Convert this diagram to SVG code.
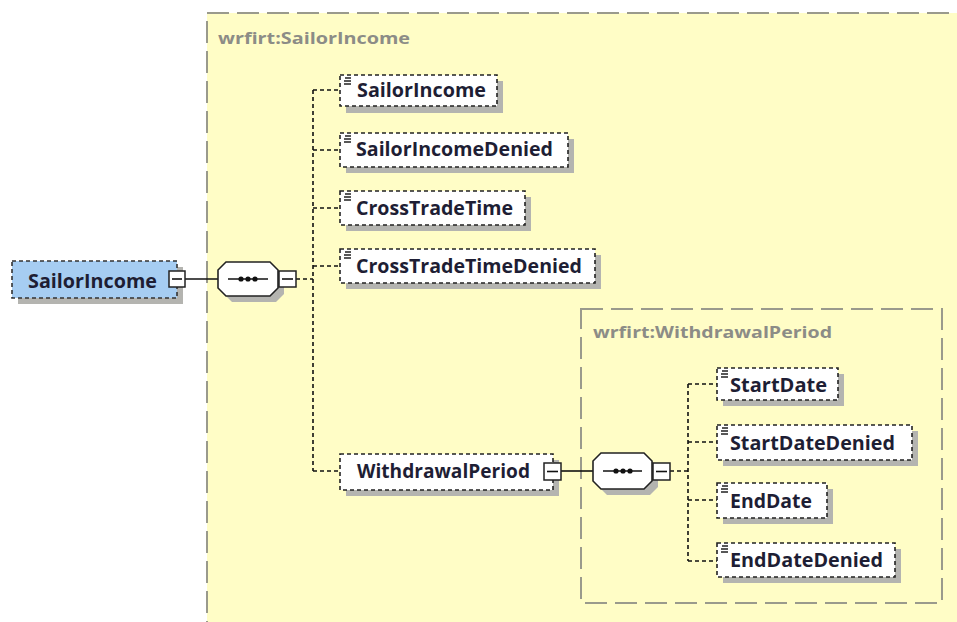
<svg xmlns="http://www.w3.org/2000/svg" width="957" height="622" viewBox="0 0 957 622">
<style>
.bg{fill:#ffffff}
.grp{fill:#fffdc6;stroke:#9a9a8c;stroke-width:2;stroke-dasharray:22 8}
.glabel{font-family:"Open Sans","Noto Sans","DejaVu Sans",sans-serif;font-weight:bold;font-size:16px;fill:#8c8c86}
.shadow{fill:#b4b4b0}
.el{fill:#ffffff;stroke:#222;stroke-width:1.6;stroke-dasharray:4 3}
.root{fill:#a6cdf2;stroke:#333;stroke-width:1.6;stroke-dasharray:4 3}
.t{font-family:"Open Sans","Noto Sans","DejaVu Sans",sans-serif;font-weight:bold;font-size:19px;fill:#1e1e34}
.solid{stroke:#111;stroke-width:1.6;fill:none}
.dash{stroke:#111;stroke-width:1.6;fill:none;stroke-dasharray:4 3}
.seq{fill:#ffffff;stroke:#222;stroke-width:1.6}
.box{fill:#ffffff;stroke:#222;stroke-width:1.5}
.ico{stroke:#222;stroke-width:1.4}
</style>
<defs>
<g id="icon"><path class="ico" d="M1,0h6M0,3h7M0,6h7"/></g>
</defs>
<rect class="bg" x="0" y="0" width="957" height="622"/>

<g id="group-SailorIncome">
<rect class="grp" x="207" y="13" width="770" height="640"/>
<text class="glabel" x="218" y="44" textLength="192" lengthAdjust="spacingAndGlyphs">wrfirt:SailorIncome</text>
</g>
<g id="group-WithdrawalPeriod">
<rect class="grp" x="581" y="309" width="361" height="294"/>
<text class="glabel" x="593" y="338" textLength="239" lengthAdjust="spacingAndGlyphs">wrfirt:WithdrawalPeriod</text>
</g>

<g id="connectors">
<path class="solid" d="M185,279H218"/>
<path class="dash" d="M296,279H313M313,90V471M313,90H340M313,150H340M313,208H340M313,266H340M313,471H340"/>
<path class="solid" d="M561,471H593"/>
<path class="dash" d="M670,471H688M688,384V561M688,384H717M688,442H717M688,500H717M688,561H717"/>
</g>

<g id="root-SailorIncome">
<rect class="shadow" x="18" y="267" width="165" height="37"/>
<rect class="root" x="12" y="261" width="165" height="37"/>
<text class="t" x="28" y="288" textLength="129" lengthAdjust="spacingAndGlyphs">SailorIncome</text>
<rect class="box" x="169" y="271" width="16" height="16"/>
<path class="solid" d="M172,279H182"/>
</g>

<g id="seq-outer">
<polygon class="shadow" points="232,268 276,268 284,276 284,294 276,302 232,302 224,294 224,276"/>
<polygon class="seq" points="226,262 270,262 278,270 278,288 270,296 226,296 218,288 218,270"/>
<path class="solid" d="M228,279H268"/>
<circle cx="241" cy="279" r="2.6" fill="#111"/><circle cx="248" cy="279" r="2.6" fill="#111"/><circle cx="255" cy="279" r="2.6" fill="#111"/>
<rect class="box" x="279" y="271" width="17" height="16"/>
<path class="solid" d="M282,279H293"/>
</g>

<g id="el-SailorIncome">
<rect class="shadow" x="346" y="81" width="157" height="32"/>
<rect class="el" x="340" y="75" width="157" height="31"/>
<use href="#icon" x="344" y="78"/>
<text class="t" x="357" y="97" textLength="129" lengthAdjust="spacingAndGlyphs">SailorIncome</text>
</g>
<g id="el-SailorIncomeDenied">
<rect class="shadow" x="346" y="139" width="228" height="34"/>
<rect class="el" x="340" y="133" width="228" height="34"/>
<use href="#icon" x="344" y="136"/>
<text class="t" x="356" y="156" textLength="197" lengthAdjust="spacingAndGlyphs">SailorIncomeDenied</text>
</g>
<g id="el-CrossTradeTime">
<rect class="shadow" x="346" y="197" width="185" height="34"/>
<rect class="el" x="340" y="191" width="185" height="34"/>
<use href="#icon" x="344" y="194"/>
<text class="t" x="356" y="215" textLength="157" lengthAdjust="spacingAndGlyphs">CrossTradeTime</text>
</g>
<g id="el-CrossTradeTimeDenied">
<rect class="shadow" x="346" y="255" width="255" height="34"/>
<rect class="el" x="340" y="249" width="255" height="34"/>
<use href="#icon" x="344" y="252"/>
<text class="t" x="356" y="273" textLength="226" lengthAdjust="spacingAndGlyphs">CrossTradeTimeDenied</text>
</g>
<g id="el-WithdrawalPeriod">
<rect class="shadow" x="346" y="460" width="213" height="36"/>
<rect class="el" x="340" y="454" width="213" height="36"/>
<text class="t" x="357" y="478" textLength="173" lengthAdjust="spacingAndGlyphs">WithdrawalPeriod</text>
<rect class="box" x="544" y="463" width="17" height="17"/>
<path class="solid" d="M547,471.5H558"/>
</g>

<g id="seq-inner">
<polygon class="shadow" points="607,459 650,459 658,467 658,487 650,495 607,495 599,487 599,467"/>
<polygon class="seq" points="601,453 644,453 652,461 652,481 644,489 601,489 593,481 593,461"/>
<path class="solid" d="M603,471H642"/>
<circle cx="616" cy="471" r="2.6" fill="#111"/><circle cx="623" cy="471" r="2.6" fill="#111"/><circle cx="630" cy="471" r="2.6" fill="#111"/>
<rect class="box" x="653" y="463" width="17" height="17"/>
<path class="solid" d="M656,471.5H667"/>
</g>

<g id="el-StartDate">
<rect class="shadow" x="723" y="374" width="121" height="32"/>
<rect class="el" x="717" y="368" width="121" height="32"/>
<use href="#icon" x="721" y="371"/>
<text class="t" x="730" y="392" textLength="97" lengthAdjust="spacingAndGlyphs">StartDate</text>
</g>
<g id="el-StartDateDenied">
<rect class="shadow" x="723" y="431" width="195" height="35"/>
<rect class="el" x="717" y="425" width="195" height="35"/>
<use href="#icon" x="721" y="428"/>
<text class="t" x="730" y="450" textLength="165" lengthAdjust="spacingAndGlyphs">StartDateDenied</text>
</g>
<g id="el-EndDate">
<rect class="shadow" x="723" y="489" width="110" height="35"/>
<rect class="el" x="717" y="483" width="110" height="35"/>
<use href="#icon" x="721" y="486"/>
<text class="t" x="730" y="508" textLength="82" lengthAdjust="spacingAndGlyphs">EndDate</text>
</g>
<g id="el-EndDateDenied">
<rect class="shadow" x="723" y="549" width="178" height="34"/>
<rect class="el" x="717" y="543" width="178" height="34"/>
<use href="#icon" x="721" y="546"/>
<text class="t" x="730" y="567" textLength="153" lengthAdjust="spacingAndGlyphs">EndDateDenied</text>
</g>
</svg>
